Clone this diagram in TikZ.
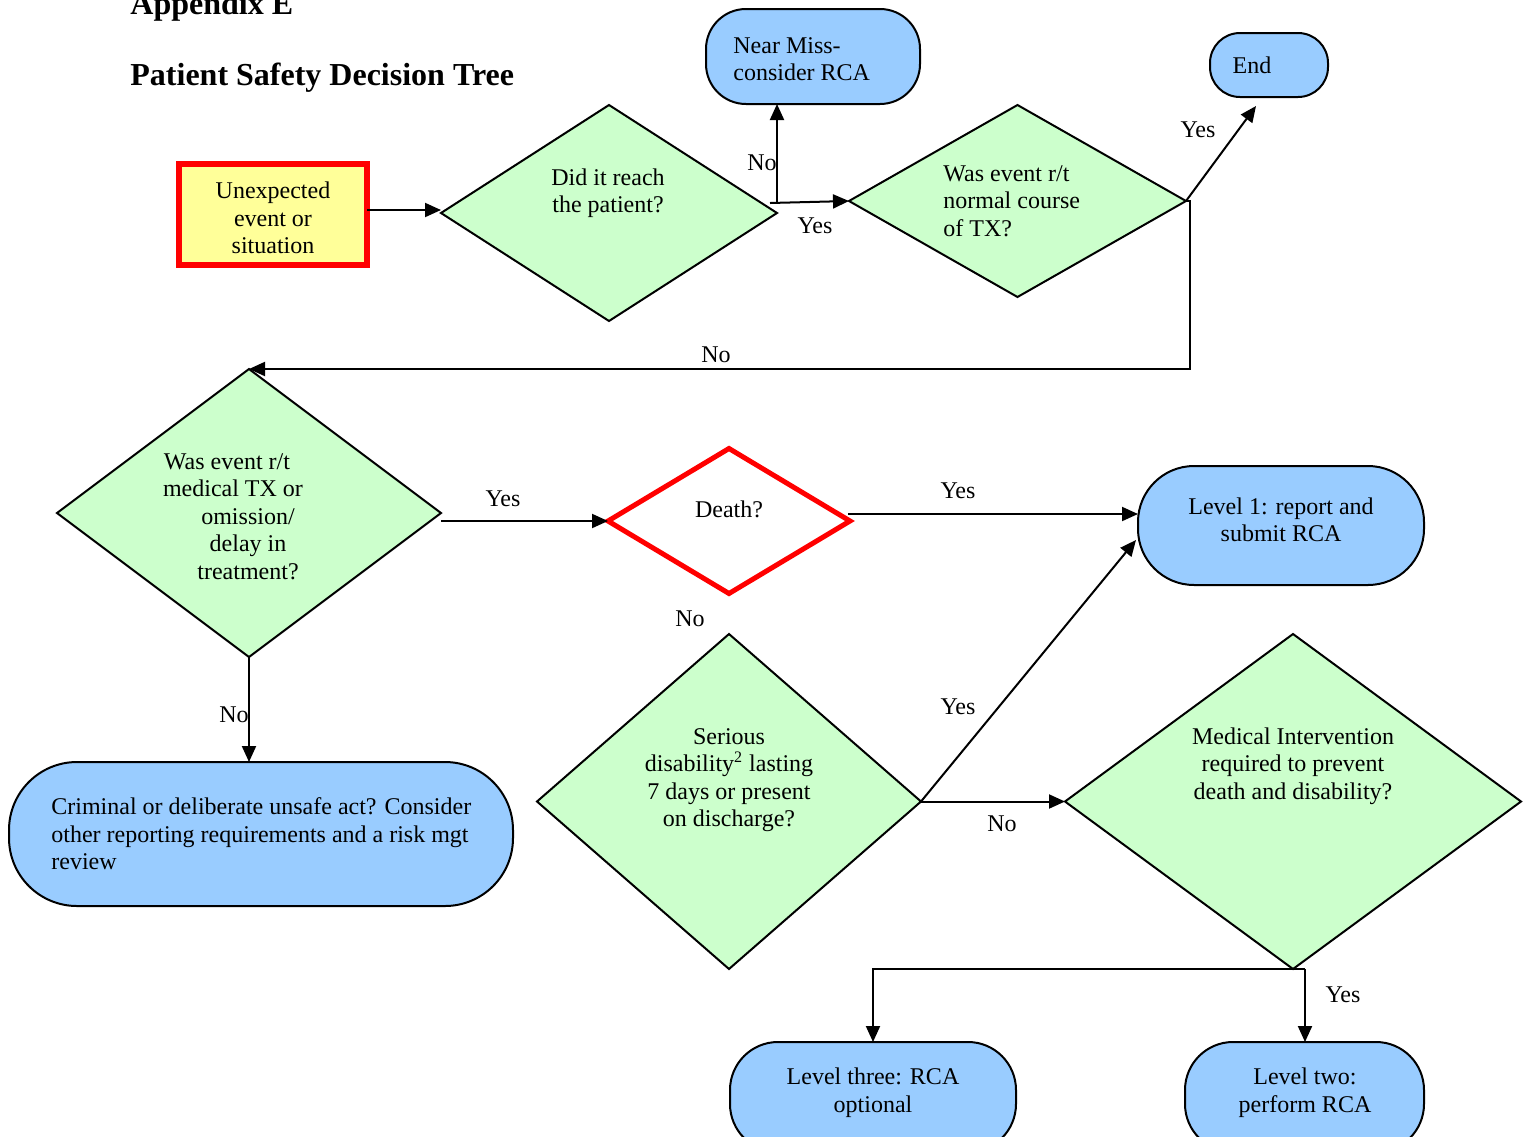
\documentclass[tikz,border=0pt]{standalone}
\usepackage{fontspec}
\setmainfont{Liberation Serif}
\usetikzlibrary{shapes.geometric,arrows.meta,calc}
\definecolor{dgreen}{HTML}{CCFFCC}
\definecolor{dblue}{HTML}{99CCFF}
\definecolor{dyellow}{HTML}{FFFF99}
\definecolor{dred}{HTML}{FF0000}
\begin{document}
\begin{tikzpicture}[x=0.5pt,y=-0.5pt,
  dec/.style={diamond, draw, line width=1pt, fill=dgreen, inner sep=0pt, outer sep=0pt},
  term/.style={rectangle, rounded corners=#1, draw, line width=1pt, fill=dblue, inner sep=0pt, outer sep=0pt},
  txt/.style={inner sep=0pt, align=center, font=\fontsize{12}{13.75}\selectfont},
  txtl/.style={inner sep=0pt, align=left, anchor=west, font=\fontsize{12}{13.75}\selectfont},
  lbl/.style={inner sep=0pt, font=\fontsize{12}{13.75}\selectfont},
  arr/.style={line width=1pt, -{Triangle[length=8pt,width=7pt]}},
  ln/.style={line width=1pt}]
\useasboundingbox (0,0) rectangle (1526,1136);

% titles
\node[anchor=base west, inner sep=0pt, font=\bfseries\fontsize{16}{19}\selectfont] (ttlA) at (130,14) {Appendix E};
\node[anchor=base west, inner sep=0pt, font=\bfseries\fontsize{16}{19}\selectfont] (ttlB) at (130,85) {Patient Safety Decision Tree};

% shapes
\node[rectangle, draw=dred, line width=3pt, fill=dyellow, minimum width=94pt, minimum height=50.5pt, inner sep=0pt, outer sep=0pt] (unexp) at (273,214.5) {};
\node[dec, minimum width=168pt, minimum height=108pt] (d1) at (609,213) {};
\node[term=20pt, minimum width=107pt, minimum height=47.5pt] (near) at (813,56.5) {};
\node[dec, minimum width=168.5pt, minimum height=96pt] (d2) at (1017.5,201) {};
\node[term=15pt, minimum width=59pt, minimum height=32pt] (endb) at (1269,65) {};
\node[dec, minimum width=192pt, minimum height=144pt] (d3) at (249,513) {};
\node[diamond, draw=dred, line width=2.5pt, fill=white, inner sep=0pt, outer sep=0pt, minimum width=121pt, minimum height=72.5pt] (death) at (729,521) {};
\node[term=28pt, minimum width=143pt, minimum height=59.5pt] (lev1) at (1281,525.5) {};
\node[dec, minimum width=192pt, minimum height=167.5pt] (ser) at (729,801.5) {};
\node[dec, minimum width=228pt, minimum height=167.5pt] (med) at (1293,801.5) {};
\node[term=34pt, minimum width=252pt, minimum height=72pt] (crim) at (261,834) {};
\node[term=24pt, minimum width=143pt, minimum height=55pt] (lev3) at (873,1097) {};
\node[term=24pt, minimum width=119.5pt, minimum height=55pt] (lev2) at (1304.5,1097) {};

% texts
\node[txt] (tUnexp) at (273,218) {Unexpected\\event or\\situation};
\node[txt] (tD1) at (608,193) {Did it reach\\the patient?};
\node[txtl] (tNear) at (733,59) {Near Miss-\\consider RCA};
\node[txtl] (tD2) at (943,201) {Was event r/t\\normal course\\of TX?};
\node[txt] (tEnd) at (1252,65) {End};
\node[txt] (tD3) at (248,516.5) {Was event r/t\kern21pt\\medical TX or\kern15pt\\omission/\\delay in\\treatment?};
\node[txt] (tDeath) at (729,509) {Death?};
\node[txt] (tLev1) at (1281,520) {Level 1: report and\\submit RCA};
\node[txt] (tSer) at (729,780) {Serious\\disability\textsuperscript{2} lasting\\7 days or present\\on discharge?};
\node[txt] (tMed) at (1293,766) {Medical Intervention\\required to prevent\\death and disability?};
\node[txtl] (tCrim) at (51,834) {Criminal or deliberate unsafe act? Consider\\other reporting requirements and a risk mgt\\review};
\node[txt] (tLev3) at (873,1092.5) {Level three: RCA\\optional};
\node[txt] (tLev2) at (1305,1092.5) {Level two:\\perform RCA};

% labels
\node[lbl] (l1) at (762,163) {No};
\node[lbl] (l2) at (815,226) {Yes};
\node[lbl] (l3) at (1198,130) {Yes};
\node[lbl] (l4) at (716,355) {No};
\node[lbl] (l5) at (503,499) {Yes};
\node[lbl] (l6) at (958,491) {Yes};
\node[lbl] (l7) at (690,619) {No};
\node[lbl] (l8) at (958,707) {Yes};
\node[lbl] (l9) at (1002,824) {No};
\node[lbl] (l10) at (234,715) {No};
\node[lbl] (l11) at (1343,995) {Yes};

% connectors
\coordinate (j1) at (777,202);
\coordinate (j1s) at (770,203);
\coordinate (endtip) at (1256,106);
\coordinate (dtA) at (848,514);
\coordinate (l1tip) at (1136,540);
\coordinate (mj) at (1305,969);

\draw[arr] (unexp.east |- 0,210) -- (d1.west |- 0,210);
\draw[arr] (j1s) -- (d2.west);
\draw[arr] (j1) -- (j1 |- near.south);
\draw[arr] (d2.east) -- (endtip);
\draw[arr] (d2.east) -- ++(4,0) |- (d3.north);
\draw[arr] (d3.east |- death.west) -- (death.west);
\draw[arr] (dtA) -- (dtA -| lev1.west);
\draw[arr] (ser.east) -- (l1tip);
\draw[arr] (ser.east) -- (med.west);
\draw[arr] (d3.south) -- (d3.south |- crim.north);
\draw[arr] (mj) -| (lev3.north);
\draw[arr] (mj) -- (mj |- lev2.north);
\end{tikzpicture}
\end{document}
